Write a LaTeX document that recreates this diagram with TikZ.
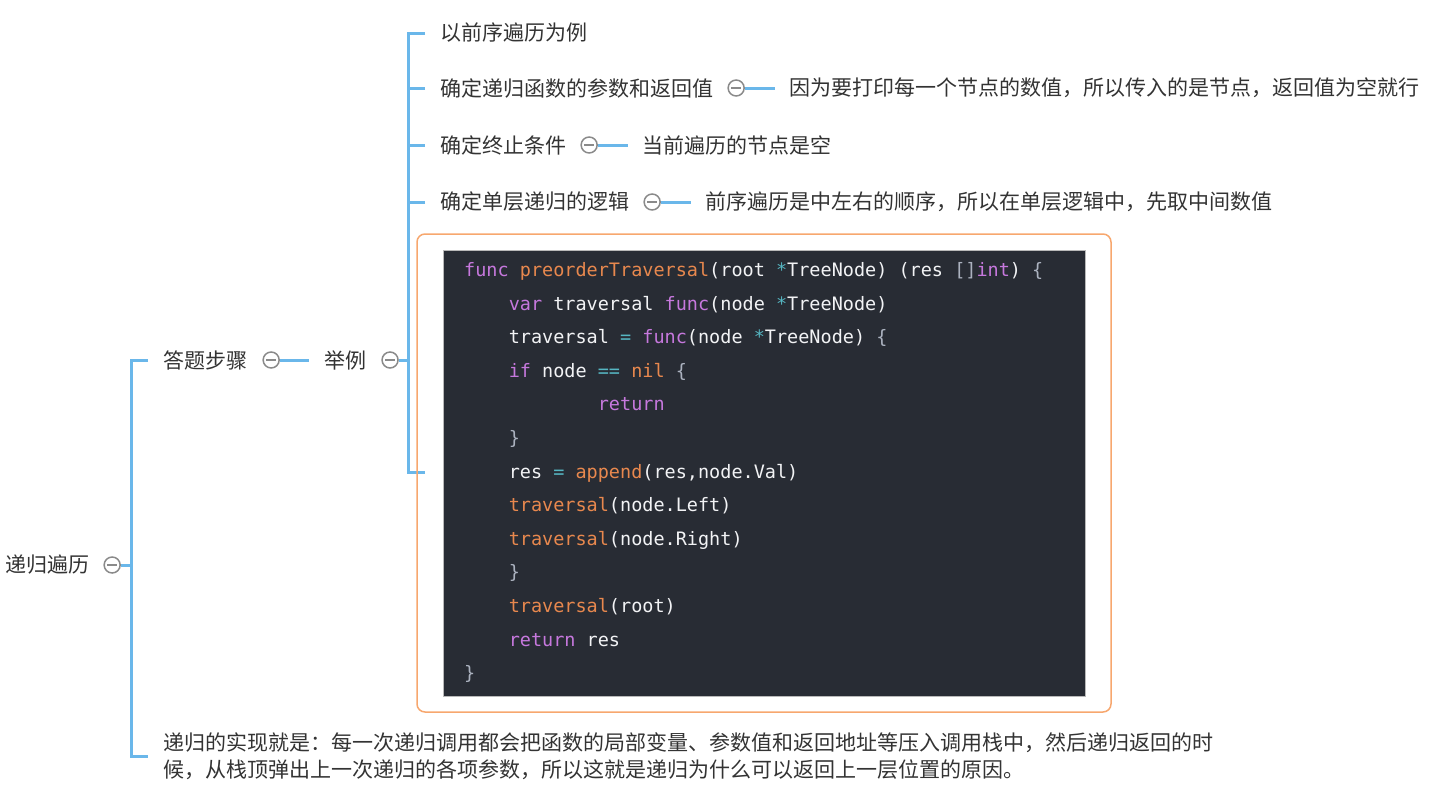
\documentclass[tikz,border=0pt]{standalone}
\usepackage{fontspec}
\newfontfamily\cjk{Noto Sans CJK SC}
\newfontfamily\codefont{DejaVu Sans Mono}
\usetikzlibrary{positioning}
\definecolor{linkblue}{HTML}{6AB7EA}
\definecolor{foldgray}{HTML}{8A8A8A}
\definecolor{textgray}{HTML}{333333}
\definecolor{boxorange}{HTML}{F7A76E}
\definecolor{codebg}{HTML}{282C34}
\definecolor{codewhite}{HTML}{F2F3F5}
\definecolor{kw}{HTML}{C678DD}
\definecolor{fn}{HTML}{E8884E}
\definecolor{op}{HTML}{56B6C2}
\definecolor{pun}{HTML}{ABB2BF}
\tikzset{
    branch/.style={draw=linkblue, line width=3pt}, % blue connectors of the map
    fold/.style={circle, draw=foldgray, line width=1.5pt, fill=white, minimum size=16pt, inner sep=0pt,
        path picture={\draw[foldgray, line width=1.5pt] ([xshift=-5pt]path picture bounding box.center) -- ([xshift=5pt]path picture bounding box.center);}},
    topic/.style={anchor=west, inner sep=0pt, text=textgray, font=\cjk\fontsize{21}{27}\selectfont},
    codeline/.style={anchor=base west, inner sep=0pt, text=codewhite, font=\codefont\fontsize{18.5}{22}\selectfont}
}
\newcommand{\tab}[1]{\hphantom{#1}}

\begin{document}
\begin{tikzpicture}[x=1pt, y=-1pt]
    \useasboundingbox (0,0) rectangle (1438,795);

    % root and first level
    \node[topic] (root) at (5,565) {递归遍历};
    \node[fold] (rootf) [right = 14pt of root] {};
    \node[topic] (dtbz) at (163,360) {答题步骤};
    \node[fold] (dtbzf) [right = 15pt of dtbz] {};
    \node[topic] (jl) [right = 44pt of dtbzf] {举例};
    \node[fold] (jlf) [right = 15pt of jl] {};
    \node[topic, align=left] (shix) at (163,756) {递归的实现就是：每一次递归调用都会把函数的局部变量、参数值和返回地址等压入调用栈中，然后递归返回的时\\候，从栈顶弹出上一次递归的各项参数，所以这就是递归为什么可以返回上一层位置的原因。};

    % steps
    \node[topic] (a1) at (440,33) {以前序遍历为例};
    \node[topic] (a2) at (440,88) {确定递归函数的参数和返回值};
    \node[fold] (a2f) [right = 14pt of a2] {};
    \node[topic] (a2d) [right = 44pt of a2f] {因为要打印每一个节点的数值，所以传入的是节点，返回值为空就行};
    \node[topic] (a3) at (440,145) {确定终止条件};
    \node[fold] (a3f) [right = 14pt of a3] {};
    \node[topic] (a3d) [right = 44pt of a3f] {当前遍历的节点是空};
    \node[topic] (a4) at (440,202) {确定单层递归的逻辑};
    \node[fold] (a4f) [right = 14pt of a4] {};
    \node[topic] (a4d) [right = 44pt of a4f] {前序遍历是中左右的顺序，所以在单层逻辑中，先取中间数值};

    \coordinate (sp1) at (131,565);
    \coordinate (t1) at ([xshift=-15pt]dtbz.west);
    \coordinate (t2) at ([xshift=-15pt]shix.west);
    \coordinate (sp2) at (408,360);
    \coordinate (u1) at ([xshift=-15pt]a1.west);
    \coordinate (u2) at ([xshift=-15pt]a2.west);
    \coordinate (u3) at ([xshift=-15pt]a3.west);
    \coordinate (u4) at ([xshift=-15pt]a4.west);
    \coordinate (u5) at (425,472);

    \draw[branch] (rootf) -- (sp1);
    \draw[branch] (t1) -| (sp1) |- (t2);
    \draw[branch, shorten >=15pt] (dtbzf) -- (jl);
    \draw[branch] (jlf) -- (sp2);
    \draw[branch] (u1) -| (sp2) |- (u5);
    \draw[branch] (u2) -- (u2 -| sp2);
    \draw[branch] (u3) -- (u3 -| sp2);
    \draw[branch] (u4) -- (u4 -| sp2);
    \draw[branch, shorten >=14pt] (a2f) -- (a2d);
    \draw[branch, shorten >=14pt] (a3f) -- (a3d);
    \draw[branch, shorten >=14pt] (a4f) -- (a4d);

    % example code
    \node[draw=boxorange, line width=1.5pt, rounded corners=8pt, minimum width=694pt, minimum height=478pt] (ex) at (764,473) {};
    \node[fill=codebg, draw=gray!55, line width=0.8pt, minimum width=642pt, minimum height=446pt] (code) at (764,473) {};

    \node[codeline] (c1) at (464,276.5) {\textcolor{kw}{func} \textcolor{fn}{preorderTraversal}(root \textcolor{op}{*}TreeNode) (res \textcolor{pun}{[]}\textcolor{kw}{int}) \textcolor{pun}{\{}};
    \node[codeline] (c2) at (464,310.1) {\tab{0000}\textcolor{kw}{var} traversal \textcolor{kw}{func}(node \textcolor{op}{*}TreeNode)};
    \node[codeline] (c3) at (464,343.7) {\tab{0000}traversal \textcolor{op}{=} \textcolor{kw}{func}(node \textcolor{op}{*}TreeNode) \textcolor{pun}{\{}};
    \node[codeline] (c4) at (464,377.3) {\tab{0000}\textcolor{kw}{if} node \textcolor{op}{==} \textcolor{fn}{nil} \textcolor{pun}{\{}};
    \node[codeline] (c5) at (464,410.9) {\tab{000000000000}\textcolor{kw}{return}};
    \node[codeline] (c6) at (464,444.5) {\tab{0000}\textcolor{pun}{\}}};
    \node[codeline] (c7) at (464,478.1) {\tab{0000}res \textcolor{op}{=} \textcolor{fn}{append}(res,node.Val)};
    \node[codeline] (c8) at (464,511.7) {\tab{0000}\textcolor{fn}{traversal}(node.Left)};
    \node[codeline] (c9) at (464,545.3) {\tab{0000}\textcolor{fn}{traversal}(node.Right)};
    \node[codeline] (c10) at (464,578.9) {\tab{0000}\textcolor{pun}{\}}};
    \node[codeline] (c11) at (464,612.5) {\tab{0000}\textcolor{fn}{traversal}(root)};
    \node[codeline] (c12) at (464,646.1) {\tab{0000}\textcolor{kw}{return} res};
    \node[codeline] (c13) at (464,679.7) {\textcolor{pun}{\}}};
\end{tikzpicture}
\end{document}
